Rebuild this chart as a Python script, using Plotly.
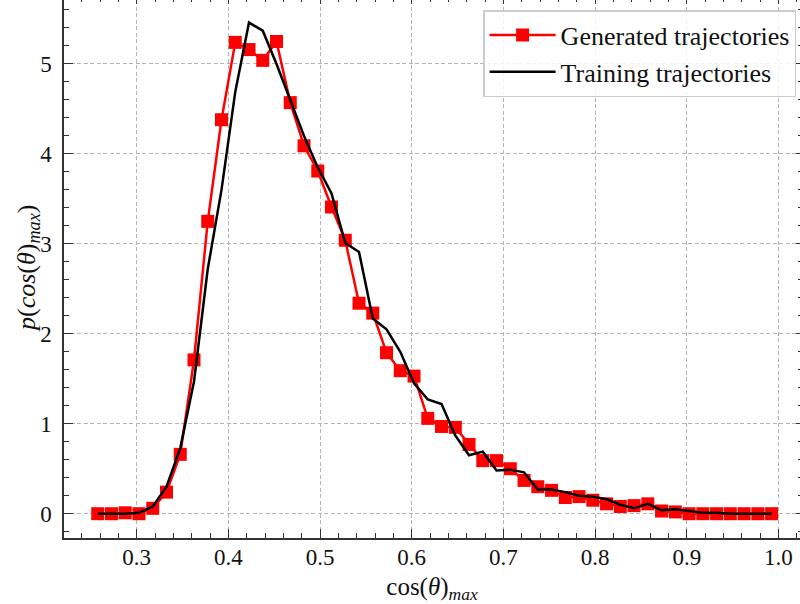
import plotly.graph_objects as go

# bin centres (cos(theta)_max)
x_bins = [0.2575, 0.2725, 0.2875, 0.3025, 0.3175, 0.3325, 0.3475, 0.3625, 0.3775, 0.3925,
          0.4075, 0.4225, 0.4375, 0.4525, 0.4675, 0.4825, 0.4975, 0.5125, 0.5275, 0.5425,
          0.5575, 0.5725, 0.5875, 0.6025, 0.6175, 0.6325, 0.6475, 0.6625, 0.6775, 0.6925,
          0.7075, 0.7225, 0.7375, 0.7525, 0.7675, 0.7825, 0.7975, 0.8125, 0.8275, 0.8425,
          0.8575, 0.8725, 0.8875, 0.9025, 0.9175, 0.9325, 0.9475, 0.9625, 0.9775, 0.9925]

generated = [0.00, 0.00, 0.01, 0.00, 0.06, 0.24, 0.66, 1.71, 3.25, 4.38,
             5.24, 5.16, 5.04, 5.25, 4.57, 4.09, 3.81, 3.41, 3.04, 2.34,
             2.23, 1.79, 1.59, 1.53, 1.06, 0.97, 0.96, 0.77, 0.59, 0.59,
             0.50, 0.37, 0.30, 0.26, 0.18, 0.19, 0.15, 0.11, 0.08, 0.09,
             0.11, 0.03, 0.02, 0.00, 0.00, 0.00, 0.00, 0.00, 0.00, 0.00]

training = [0.00, 0.00, 0.00, 0.01, 0.08, 0.30, 0.73, 1.47, 2.72, 3.60,
            4.69, 5.46, 5.37, 5.00, 4.60, 4.20, 3.85, 3.56, 3.01, 2.91,
            2.17, 2.05, 1.80, 1.45, 1.27, 1.22, 0.87, 0.65, 0.69, 0.48,
            0.49, 0.46, 0.27, 0.27, 0.24, 0.20, 0.19, 0.16, 0.10, 0.06,
            0.11, 0.04, 0.05, 0.03, 0.01, 0.01, 0.00, 0.00, 0.00, 0.00]

x_ticks = [0.3, 0.4, 0.5, 0.6, 0.7, 0.8, 0.9, 1.0]
x_ticklabels = ["0.3", "0.4", "0.5", "0.6", "0.7", "0.8", "0.9", "1.0"]
y_ticks = [0, 1, 2, 3, 4, 5]
y_ticklabels = ["0", "1", "2", "3", "4", "5"]

FONT = "Liberation Serif"
AX = "#333333"
GRID = "#b5b5b5"
X_RANGE = [0.2207, 1.0235]
Y_RANGE = [-0.27, 5.711]

fig = go.Figure()
fig.add_trace(go.Scatter(
    x=x_bins, y=generated, mode="lines+markers", name="Generated trajectories",
    line=dict(color="#ff0000", width=2.5),
    marker=dict(symbol="square", size=13, color="#ff0000"),
    legendgroup="g1"))
fig.add_trace(go.Scatter(
    x=x_bins, y=training, mode="lines", name="Training trajectories",
    line=dict(color="#000000", width=2.5), legendgroup="g2"))
# helper trace for mirrored (top/right) tick axes
fig.add_trace(go.Scatter(x=[], y=[], xaxis="x2", yaxis="y2", showlegend=False,
                         hoverinfo="skip"))

common = dict(showline=True, linecolor=AX, linewidth=1.5, ticks="inside",
              tickcolor=AX, tickwidth=1.3, ticklen=9, zeroline=False,
              showgrid=True, gridcolor=GRID, gridwidth=1, griddash="4px,2.5px",
              tickfont=dict(family=FONT, size=23, color="#111111"))

fig.update_layout(
    width=800, height=604,
    margin=dict(l=64, r=0, t=0, b=66),
    paper_bgcolor="white", plot_bgcolor="white",
    font=dict(family=FONT, color="#111111"),
    showlegend=True,
    legend=dict(x=0.995, y=0.981, xanchor="right", yanchor="top",
                bgcolor="rgba(255,255,255,0.85)", bordercolor="#cccccc",
                borderwidth=1.3, font=dict(family=FONT, size=26, color="#111111"),
                traceorder="grouped", tracegroupgap=0, itemwidth=66),
    xaxis=dict(range=X_RANGE, tickvals=x_ticks, ticktext=x_ticklabels,
               minor=dict(ticks="inside", ticklen=5, tickcolor=AX, tickwidth=1,
                          dtick=0.02, tick0=0.3, showgrid=False),
               title=dict(text="cos(<i>θ</i>)<sub><i>max</i></sub>",
                          font=dict(family=FONT, size=25, color="#111111"),
                          standoff=8),
               ticklabelstandoff=-2,
               **common),
    yaxis=dict(range=Y_RANGE, tickvals=y_ticks, ticktext=y_ticklabels,
               minor=dict(ticks="inside", ticklen=5, tickcolor=AX, tickwidth=1,
                          dtick=0.2, tick0=0, showgrid=False),
               ticklabelstandoff=6,
               **common),
    xaxis2=dict(range=X_RANGE, overlaying="x", side="top", anchor="y2",
                showline=False, showgrid=False, zeroline=False, showticklabels=False,
                ticks="inside", ticklen=4, tickcolor=AX, tickwidth=1.3,
                tickvals=x_ticks,
                minor=dict(ticks="inside", ticklen=2, tickcolor=AX, tickwidth=1,
                           dtick=0.02, tick0=0.3, showgrid=False)),
    yaxis2=dict(range=Y_RANGE, overlaying="y", side="right", anchor="x2",
                showline=False, showgrid=False, zeroline=False, showticklabels=False,
                ticks="inside", ticklen=4, tickcolor=AX, tickwidth=1.3,
                tickvals=y_ticks,
                minor=dict(ticks="inside", ticklen=2, tickcolor=AX, tickwidth=1,
                           dtick=0.2, tick0=0, showgrid=False)),
)

# y-axis title placed as a rotated annotation
fig.add_annotation(
    text="<i>p</i>(<i>cos</i>(<i>θ</i>)<sub><i>max</i></sub>)",
    xref="paper", yref="paper", x=0, y=0.5, xshift=-36,
    xanchor="center", yanchor="middle", textangle=-90, showarrow=False,
    font=dict(family=FONT, size=26, color="#111111"))

fig.write_html("out.html")
